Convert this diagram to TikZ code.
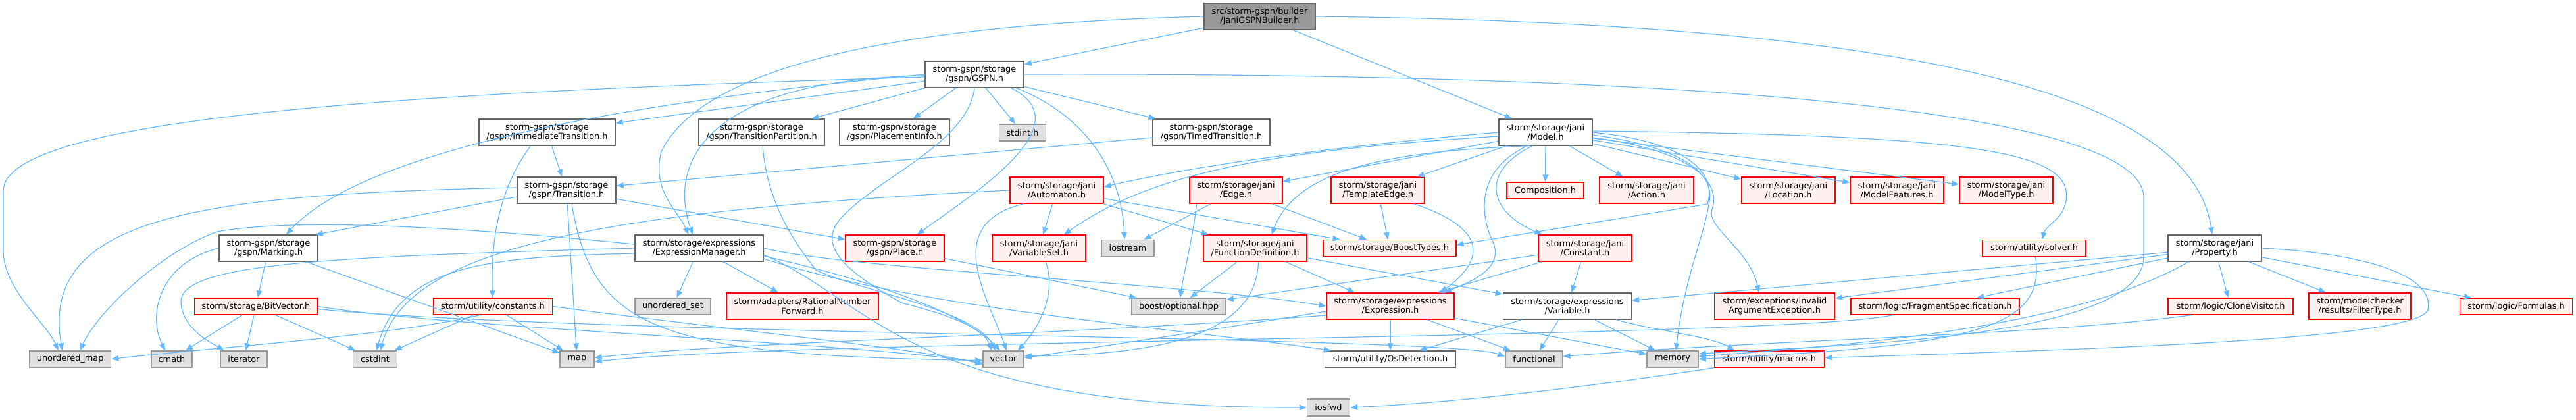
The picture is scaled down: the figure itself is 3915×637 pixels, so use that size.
\documentclass[tikz,border=0pt]{standalone}
\usepackage{fontspec}
\newfontfamily\dfont{DejaVu Sans}
\usetikzlibrary{arrows.meta}
\definecolor{ec}{HTML}{63B8FF}
\definecolor{rfill}{HTML}{FFF0F0}
\definecolor{gfill}{HTML}{E0E0E0}
\definecolor{gbord}{HTML}{999999}
\definecolor{dbord}{HTML}{666666}
\definecolor{mfill}{HTML}{999999}
\begin{document}
\begin{tikzpicture}[x=1pt,y=-1pt,
  bn/.style={draw, line width=1.3pt, inner sep=0pt, align=center, font={\dfont\fontsize{12.9}{14.5}\selectfont}},
  wn/.style={bn, draw=dbord, fill=white},
  rn/.style={bn, draw=red, fill=rfill},
  gn/.style={bn, draw=gbord, fill=gfill},
  mn/.style={bn, draw=dbord, fill=mfill},
  lnk/.style={draw=ec, line width=1.2pt, -{Triangle[length=11pt,width=8.5pt]}}]
\useasboundingbox (0,0) rectangle (3915,637);
% row 0
\node[mn, minimum width=169pt, minimum height=40pt] (J) at (1914.5,25) {src/storm-gspn/builder\\/JaniGSPNBuilder.h};
% row 1
\node[wn, minimum width=150pt, minimum height=40pt] (G) at (1481,113) {storm-gspn/storage\\/gspn/GSPN.h};
% row 2
\node[wn, minimum width=207pt, minimum height=40pt] (IT) at (831.5,201) {storm-gspn/storage\\/gspn/ImmediateTransition.h};
\node[wn, minimum width=191pt, minimum height=40pt] (TP) at (1157.5,201) {storm-gspn/storage\\/gspn/TransitionPartition.h};
\node[wn, minimum width=167pt, minimum height=40pt] (PI) at (1359.5,201) {storm-gspn/storage\\/gspn/PlacementInfo.h};
\node[gn, minimum width=71pt, minimum height=25pt] (SI) at (1554,201.5) {stdint.h};
\node[wn, minimum width=178pt, minimum height=40pt] (TT) at (1841,201) {storm-gspn/storage\\/gspn/TimedTransition.h};
\node[wn, minimum width=142pt, minimum height=40pt] (MO) at (2349,201) {storm/storage/jani\\/Model.h};
% row 3
\node[wn, minimum width=150pt, minimum height=40pt] (TR) at (861,289) {storm-gspn/storage\\/gspn/Transition.h};
\node[rn, minimum width=142pt, minimum height=40pt] (AU) at (1606,289) {storm/storage/jani\\/Automaton.h};
\node[rn, minimum width=141pt, minimum height=40pt] (ED) at (1878.5,289) {storm/storage/jani\\/Edge.h};
\node[rn, minimum width=142pt, minimum height=40pt] (TE) at (2094,289) {storm/storage/jani\\/TemplateEdge.h};
\node[rn, minimum width=117pt, minimum height=25pt] (CO) at (2348.5,289.5) {Composition.h};
\node[rn, minimum width=143pt, minimum height=40pt] (AC) at (2502.5,289) {storm/storage/jani\\/Action.h};
\node[rn, minimum width=142pt, minimum height=40pt] (LO) at (2718,289) {storm/storage/jani\\/Location.h};
\node[rn, minimum width=142pt, minimum height=40pt] (MF) at (2883,289) {storm/storage/jani\\/ModelFeatures.h};
\node[rn, minimum width=142pt, minimum height=40pt] (MT) at (3049,289) {storm/storage/jani\\/ModelType.h};
% row 4
\node[wn, minimum width=150pt, minimum height=40pt] (MK) at (408,377) {storm-gspn/storage\\/gspn/Marking.h};
\node[wn, minimum width=195pt, minimum height=40pt] (EM) at (1062.5,377) {storm/storage/expressions\\/ExpressionManager.h};
\node[rn, minimum width=150pt, minimum height=40pt] (PL) at (1360,377) {storm-gspn/storage\\/gspn/Place.h};
\node[rn, minimum width=142pt, minimum height=40pt] (VS) at (1579,377) {storm/storage/jani\\/VariableSet.h};
\node[gn, minimum width=80pt, minimum height=25pt] (IO) at (1714,377) {iostream};
\node[rn, minimum width=157pt, minimum height=40pt] (FD) at (1907.5,377) {storm/storage/jani\\/FunctionDefinition.h};
\node[rn, minimum width=202pt, minimum height=25pt] (BT) at (2112,377) {storm/storage/BoostTypes.h};
\node[rn, minimum width=142pt, minimum height=40pt] (CN) at (2409,377) {storm/storage/jani\\/Constant.h};
\node[rn, minimum width=157pt, minimum height=25pt] (SO) at (3091.5,377) {storm/utility/solver.h};
\node[wn, minimum width=142pt, minimum height=40pt] (PR) at (3366,377) {storm/storage/jani\\/Property.h};
% row 5
\node[rn, minimum width=187pt, minimum height=25pt] (BV) at (389,465.5) {storm/storage/BitVector.h};
\node[rn, minimum width=181pt, minimum height=25pt] (CS) at (749,465.5) {storm/utility/constants.h};
\node[gn, minimum width=115pt, minimum height=25pt] (US) at (1022.5,465.5) {unordered\_set};
\node[rn, minimum width=231pt, minimum height=40pt] (RN) at (1219.5,465) {storm/adapters/RationalNumber\\Forward.h};
\node[gn, minimum width=143pt, minimum height=25pt] (BO) at (1791.5,465.5) {boost/optional.hpp};
\node[rn, minimum width=194pt, minimum height=40pt] (EX) at (2113,465) {storm/storage/expressions\\/Expression.h};
\node[wn, minimum width=195pt, minimum height=40pt] (VA) at (2382,465) {storm/storage/expressions\\/Variable.h};
\node[rn, minimum width=183pt, minimum height=40pt] (IA) at (2697,465) {storm/exceptions/Invalid\\ArgumentException.h};
\node[rn, minimum width=256pt, minimum height=25pt] (FS) at (2941,465.5) {storm/logic/FragmentSpecification.h};
\node[rn, minimum width=190pt, minimum height=25pt] (CV) at (3390,465.5) {storm/logic/CloneVisitor.h};
\node[rn, minimum width=155pt, minimum height=40pt] (FT) at (3586.5,465) {storm/modelchecker\\/results/FilterType.h};
\node[rn, minimum width=171pt, minimum height=25pt] (FO) at (3824,465.5) {storm/logic/Formulas.h};
% row 6
\node[gn, minimum width=124pt, minimum height=25pt] (UM) at (106.7,545.5) {unordered\_map};
\node[gn, minimum width=62pt, minimum height=25pt] (CM) at (261,545.5) {cmath};
\node[gn, minimum width=71pt, minimum height=25pt] (ITR) at (370.5,545.5) {iterator};
\node[gn, minimum width=67pt, minimum height=25pt] (CI) at (570,545.5) {cstdint};
\node[gn, minimum width=52pt, minimum height=25pt] (MP) at (877,545.5) {map};
\node[gn, minimum width=62pt, minimum height=25pt] (VE) at (1525,545.5) {vector};
\node[wn, minimum width=199pt, minimum height=25pt] (OS) at (2113,545.5) {storm/utility/OsDetection.h};
\node[gn, minimum width=87pt, minimum height=25pt] (FU) at (2331.5,545.5) {functional};
\node[gn, minimum width=78pt, minimum height=25pt] (ME) at (2542,545.5) {memory};
\node[rn, minimum width=167pt, minimum height=25pt] (MA) at (2689,545.5) {storm/utility/macros.h};
% row 7
\node[gn, minimum width=65pt, minimum height=26pt] (IF) at (2019,619) {iosfwd};

% ---- edges: JaniGSPNBuilder
\draw[lnk] (J) -- (G);
\draw[lnk] (J) -- (MO);
\draw[lnk] (J.west) .. controls (1450,35) and (1080,80) .. (1005,230) .. controls (990,290) and (1030,320) .. ([xshift=-16pt]EM.north);
\draw[lnk] (J.east) .. controls (2900,35) and (3330,140) .. ([xshift=-4pt]PR.north);
% ---- GSPN
\draw[lnk] (G) -- (IT);
\draw[lnk] (G) -- (TP);
\draw[lnk] (G) -- (PI);
\draw[lnk] (G) -- (SI);
\draw[lnk] (G) -- (TT);
\draw[lnk] (G.west) .. controls (1000,150) and (560,220) .. ([xshift=27pt]MK.north);
\draw[lnk] ([yshift=-4pt]G.west) .. controls (600,140) and (5,180) .. (5,290) -- (5,380) .. controls (5,440) and (70,490) .. ([xshift=-18pt]UM.north);
\draw[lnk] ([yshift=-2pt]G.west) .. controls (1100,120) and (1010,230) .. ([xshift=-10pt]EM.north);
\draw[lnk] ([xshift=-20pt]G.south east) .. controls (1650,190) and (1470,300) .. ([xshift=34pt]PL.north);
\draw[lnk] ([xshift=-12pt]G.south east) .. controls (1660,180) and (1705,270) .. ([xshift=-5pt]IO.north);
\draw[lnk] (G.south) .. controls (1470,220) and (1330,270) .. (1275,335) .. controls (1240,380) and (1300,420) .. (1370,460) .. controls (1450,480) and (1495,500) .. ([xshift=-18pt]VE.north);
\draw[lnk] (G.east) .. controls (2600,110) and (3258,170) .. (3258,300) -- (3258,390) .. controls (3258,520) and (2750,525) .. ([yshift=8pt]ME.east);
% ---- gspn transitions
\draw[lnk] (IT) -- (TR);
\draw[lnk] ([xshift=-25pt]IT.south) .. controls (770,270) and (745,340) .. (CS);
\draw[lnk] (TT) -- (TR);
\draw[lnk] (TP) .. controls (1165,300) and (1200,360) .. (1240,410) .. controls (1300,440) and (1480,470) .. ([xshift=-12pt]VE.north);
\draw[lnk] ([yshift=-10pt]TR.west) -- ([xshift=-4pt]MK.north east);
\draw[lnk] (TR) -- (PL);
\draw[lnk] (TR) -- (MP);
\draw[lnk] ([xshift=8pt]TR.south) .. controls (900,500) and (1000,540) .. ([yshift=-2pt]VE.west);
\draw[lnk] ([yshift=4pt]TR.west) .. controls (300,295) and (60,330) .. ([xshift=-12pt]UM.north);
% ---- Marking, BitVector, constants
\draw[lnk] (MK) -- (BV);
\draw[lnk] (MK.west) .. controls (240,400) and (225,480) .. ([xshift=-10pt]CM.north);
\draw[lnk] (MK) -- (MP);
\draw[lnk] (BV) -- (CM);
\draw[lnk] (BV) -- (ITR);
\draw[lnk] (BV) -- (CI);
\draw[lnk] (BV.east) .. controls (700,500) and (1300,520) .. ([yshift=-6pt]VE.west);
\draw[lnk] ([yshift=-4pt]BV.east) .. controls (900,510) and (2200,510) .. ([yshift=4pt]FU.west);
\draw[lnk] (CS) -- (MP);
\draw[lnk] (CS) -- (CI);
\draw[lnk] (CS.east) .. controls (1100,500) and (1400,530) .. ([yshift=-8pt]VE.west);
\draw[lnk] ([xshift=-20pt]CS.south) .. controls (600,510) and (300,530) .. (UM.east);
% ---- ExpressionManager
\draw[lnk] (EM) -- (US);
\draw[lnk] (EM) -- (RN);
\draw[lnk] (EM.east) .. controls (1300,410) and (1800,430) .. (EX.west);
\draw[lnk] ([yshift=-12pt]EM.east) .. controls (1300,420) and (1460,470) .. ([xshift=-5pt]VE.north);
\draw[lnk] ([yshift=-10pt]EM.east) .. controls (1330,460) and (1380,620) .. (IF.west);
\draw[lnk] ([yshift=-16pt]EM.east) .. controls (1400,470) and (1800,500) .. ([xshift=10pt]OS.north west);
\draw[lnk] (EM.west) .. controls (500,390) and (270,400) .. (275,460) .. controls (278,500) and (320,520) .. ([xshift=-30pt]ITR.north);
\draw[lnk] ([yshift=6pt]EM.west) .. controls (700,345) and (450,330) .. (330,352) .. controls (250,380) and (150,470) .. ([xshift=15pt]UM.north);
\draw[lnk] ([yshift=-8pt]EM.west) .. controls (750,390) and (610,400) .. ([xshift=2pt]CI.north);
% ---- Automaton, Edge, TemplateEdge
\draw[lnk] (AU) -- (VS);
\draw[lnk] (AU) -- (FD);
\draw[lnk] (AU) -- (BT);
\draw[lnk] (AU.west) .. controls (900,320) and (620,380) .. ([xshift=8pt]CI.north);
\draw[lnk] ([xshift=-50pt]AU.south) .. controls (1430,340) and (1500,450) .. ([xshift=5pt]VE.north);
\draw[lnk] (ED) -- (IO);
\draw[lnk] (ED) -- (BT);
\draw[lnk] ([xshift=-60pt]ED.south) .. controls (1815,350) and (1800,410) .. ([xshift=2pt]BO.north);
\draw[lnk] (TE) -- (BT);
\draw[lnk] ([xshift=55pt]TE.south) .. controls (2270,350) and (2250,400) .. ([xshift=76pt]EX.north);
% ---- Model
\draw[lnk] (MO.west) .. controls (2000,225) and (1800,255) .. ([yshift=5pt]AU.east);
\draw[lnk] (MO) -- (ED);
\draw[lnk] (MO) -- (TE);
\draw[lnk] (MO) -- (CO);
\draw[lnk] (MO) -- (AC);
\draw[lnk] (MO) -- (LO);
\draw[lnk] (MO) -- (MF);
\draw[lnk] (MO) -- (MT);
\draw[lnk] ([yshift=-6pt]MO.west) .. controls (1900,230) and (1740,270) .. ([xshift=38pt]VS.north);
\draw[lnk] ([xshift=-25pt]MO.south) .. controls (2100,230) and (1970,260) .. ([xshift=25pt]FD.north);
\draw[lnk] ([xshift=-20pt]MO.south) .. controls (2250,260) and (2260,320) .. ([xshift=6pt]CN.north west);
\draw[lnk] ([xshift=-28pt]MO.south) .. controls (2240,260) and (2250,330) .. (2270,370) .. controls (2285,410) and (2230,430) .. ([xshift=82pt]EX.north);
\draw[lnk] (MO.east) .. controls (2560,215) and (2610,260) .. (2595,310) -- ([yshift=5pt]BT.east);
\draw[lnk] ([yshift=-4pt]MO.east) .. controls (2570,225) and (2605,270) .. (2598,305) .. controls (2590,360) and (2560,420) .. ([xshift=5pt]ME.north);
\draw[lnk] ([yshift=-8pt]MO.east) .. controls (2580,230) and (2615,280) .. (2602,318) .. controls (2592,345) and (2660,380) .. ([xshift=-24pt]IA.north);
\draw[lnk] ([yshift=2pt]MO.east) .. controls (2950,205) and (3130,225) .. (3140,290) .. controls (3145,330) and (3110,340) .. ([xshift=12pt]SO.north);
% ---- Constant, FunctionDefinition, VariableSet, Place
\draw[lnk] (CN) -- (VA);
\draw[lnk] (CN) -- (BO);
\draw[lnk] ([xshift=-65pt]CN.south) -- ([xshift=72pt]EX.north);
\draw[lnk] (FD) -- (BO);
\draw[lnk] ([xshift=-33pt]FD.south east) -- ([xshift=-54pt]EX.north);
\draw[lnk] (FD) -- (VA);
\draw[lnk] ([xshift=5pt]FD.south) .. controls (1910,470) and (1850,540) .. ([yshift=5pt]VE.east);
\draw[lnk] ([xshift=10pt]VS.south) .. controls (1605,440) and (1585,490) .. ([xshift=22pt]VE.north);
\draw[lnk] (PL) -- (BO);
% ---- Expression, Variable, macros
\draw[lnk] (EX) -- (OS);
\draw[lnk] (EX) -- (FU);
\draw[lnk] (EX) -- (ME);
\draw[lnk] ([yshift=-8pt]EX.west) .. controls (1850,500) and (1650,530) .. ([yshift=2pt]VE.east);
\draw[lnk] ([yshift=-14pt]EX.west) .. controls (1600,510) and (1100,520) .. ([yshift=2pt]MP.east);
\draw[lnk] (VA) -- (OS);
\draw[lnk] (VA) -- (FU);
\draw[lnk] (VA) -- (ME);
\draw[lnk] ([xshift=75pt]VA.south) .. controls (2500,500) and (2600,510) .. ([xshift=-53pt]MA.north);
\draw[lnk] (MA) .. controls (2500,575) and (2250,610) .. (IF.east);
% ---- Property and the logic headers
\draw[lnk] (PR) -- (VA);
\draw[lnk] (PR) -- (IA);
\draw[lnk] (PR) -- (FS);
\draw[lnk] (PR) -- (CV);
\draw[lnk] (PR) -- (FT);
\draw[lnk] (PR) -- (FO);
\draw[lnk] (PR.east) .. controls (3600,385) and (3700,420) .. (3690,470) .. controls (3680,515) and (3200,530) .. ([yshift=2pt]MA.east);
\draw[lnk] ([xshift=-40pt]PR.south) .. controls (3150,500) and (2800,525) .. ([yshift=4pt]ME.east);
\draw[lnk] (SO) .. controls (3110,500) and (3000,525) .. (ME.east);
\draw[lnk] ([xshift=-60pt]CV.south) .. controls (3100,510) and (2700,515) .. ([yshift=4pt]FU.east);
\draw[lnk] (FS) .. controls (2700,515) and (1200,515) .. ([yshift=-4pt]MP.east);
\end{tikzpicture}
\end{document}
